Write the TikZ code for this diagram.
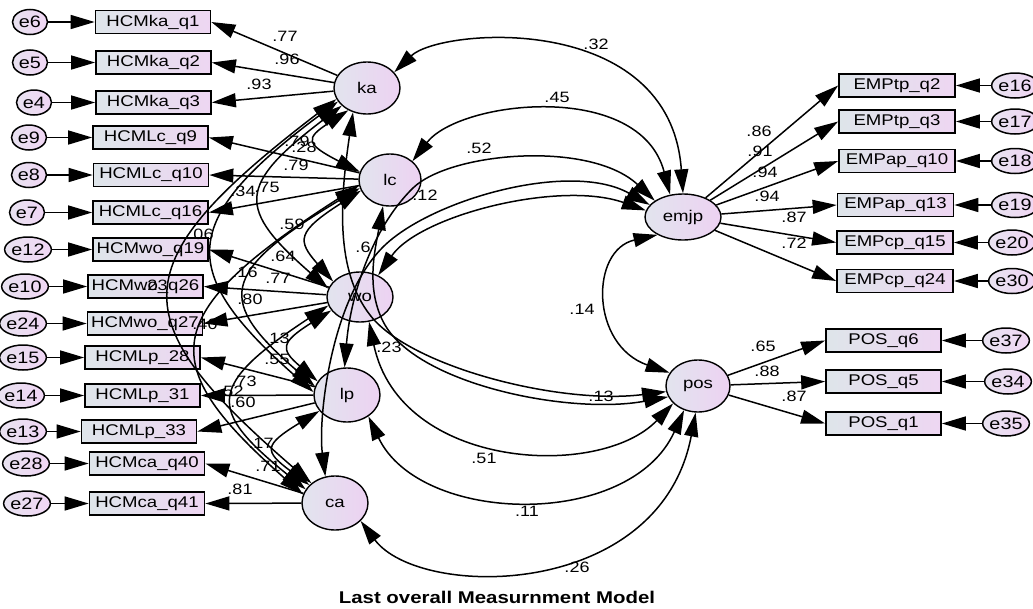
\documentclass[tikz,border=0pt]{standalone}
\usepackage{fontspec}
\setmainfont{Liberation Sans}[FakeStretch=1.2]
\usetikzlibrary{shapes.geometric,arrows.meta}
\definecolor{boxL}{RGB}{222,229,234}
\definecolor{boxR}{RGB}{238,214,242}
\definecolor{latL}{RGB}{226,228,238}
\definecolor{latR}{RGB}{237,210,242}
\definecolor{errL}{RGB}{232,226,240}
\definecolor{errR}{RGB}{240,214,244}
\begin{document}
\begin{tikzpicture}[x=1pt,y=-1pt,
  obs/.style={draw=black, line width=1.7pt, left color=boxL, right color=boxR,
    minimum width=115pt, minimum height=23pt, inner sep=0pt,
    font=\fontsize{15.5}{16}\selectfont},
  lat/.style={ellipse, draw=black, line width=1.4pt, left color=latL, right color=latR,
    inner sep=0pt, minimum width=66pt, minimum height=52pt,
    font=\fontsize{15.5}{16}\selectfont},
  err/.style={ellipse, draw=black, line width=1.5pt, left color=errL, right color=errR,
    inner sep=0pt, minimum width=35pt, minimum height=25pt,
    font=\fontsize{16.5}{17}\selectfont},
  load/.style={-{Triangle[length=24pt,width=14pt]}, line width=1.5pt},
  cov/.style={{Triangle[length=24pt,width=14pt]}-{Triangle[length=24pt,width=14pt]}, line width=1.5pt},
  lab/.style={font=\fontsize{15}{16}\selectfont, inner sep=0pt}]
\useasboundingbox (0,0) rectangle (1033,608);
\fill[white] (0,0) rectangle (1033,608);

% left observed
\node[obs] (q1) at (153,22) {HCMka\_q1};
\node[obs] (q2) at (153.5,62.5) {HCMka\_q2};
\node[obs] (q3) at (153.5,102.5) {HCMka\_q3};
\node[obs] (q9) at (150.5,137.5) {HCMLc\_q9};
\node[obs] (q10) at (151,175) {HCMLc\_q10};
\node[obs] (q16) at (150.5,212.5) {HCMLc\_q16};
\node[obs] (q19) at (150.5,249.5) {HCMwo\_q19};
\node[obs] (q26) at (145.5,286.5) {HCMwo\_q26};
\node[obs] (q27) at (145,323.5) {HCMwo\_q27};
\node[obs] (p28) at (142.5,357.5) {HCMLp\_28};
\node[obs] (p31) at (142.5,395.5) {HCMLp\_31};
\node[obs] (p33) at (139,431.5) {HCMLp\_33};
\node[obs] (c40) at (147,463.5) {HCMca\_q40};
\node[obs] (c41) at (147,503.5) {HCMca\_q41};

% left errors
\node[err] (e6) at (30,22) {e6};
\node[err] (e5) at (30,62.5) {e5};
\node[err] (e4) at (34,102.5) {e4};
\node[err] (e9) at (29,137.5) {e9};
\node[err] (e8) at (29,175) {e8};
\node[err] (e7) at (27,212.5) {e7};
\node[err] (e12) at (28,249.5) {e12};
\node[err] (e10) at (25,286.5) {e10};
\node[err] (e24) at (23,323.5) {e24};
\node[err] (e15) at (23,357.5) {e15};
\node[err] (e14) at (21,395.5) {e14};
\node[err] (e13) at (23,431.5) {e13};
\node[err] (e28) at (26,463.5) {e28};
\node[err] (e27) at (27,503.5) {e27};

% latents
\node[lat] (ka) at (367,88) {ka};
\node[lat, minimum width=62pt] (lc) at (390,180) {lc};
\node[lat, minimum height=50pt] (wo) at (360,297) {wo};
\node[lat, minimum height=54pt] (lp) at (347,395) {lp};
\node[lat, minimum height=54pt] (ca) at (335,503) {ca};
\node[lat, minimum width=76pt, minimum height=46pt] (emjp) at (683,217) {emjp};
\node[lat, minimum width=64pt] (pos) at (698,386) {pos};

% right observed
\node[obs, minimum width=116pt] (t2) at (897,85.5) {EMPtp\_q2};
\node[obs, minimum width=116pt] (t3) at (897,121.5) {EMPtp\_q3};
\node[obs, minimum width=116pt] (a10) at (897,161) {EMPap\_q10};
\node[obs, minimum width=116pt] (a13) at (895.5,205) {EMPap\_q13};
\node[obs, minimum width=116pt] (c15) at (895,242.5) {EMPcp\_q15};
\node[obs, minimum width=116pt] (c24) at (895,281) {EMPcp\_q24};
\node[obs] (s6) at (883.5,340.5) {POS\_q6};
\node[obs] (s5) at (883.5,381.5) {POS\_q5};
\node[obs] (s1) at (883.5,423.5) {POS\_q1};

% right errors
\node[err] (e16) at (1015,85.5) {e16};
\node[err] (e17) at (1015,121.5) {e17};
\node[err] (e18) at (1015,161) {e18};
\node[err] (e19) at (1015,205) {e19};
\node[err] (e20) at (1012,242.5) {e20};
\node[err] (e30) at (1012,281) {e30};
\node[err] (e37) at (1006,340.5) {e37};
\node[err] (e34) at (1008,381.5) {e34};
\node[err] (e35) at (1006,423.5) {e35};

% error arrows
\foreach \e/\b in {e6/q1,e5/q2,e4/q3,e9/q9,e8/q10,e7/q16,e12/q19,e10/q26,e24/q27,e15/p28,e14/p31,e13/p33,e28/c40,e27/c41}
  \draw[load] (\e) -- (\b.west);
\foreach \e/\b in {e16/t2,e17/t3,e18/a10,e19/a13,e20/c15,e30/c24,e37/s6,e34/s5,e35/s1}
  \draw[load] (\e) -- (\b.east);

% loadings
\foreach \l/\b in {ka/q1,ka/q2,ka/q3,lc/q9,lc/q10,lc/q16,wo/q19,wo/q26,wo/q27,lp/p28,lp/p31,lp/p33,ca/c40,ca/c41}
  \draw[load] (\l) -- (\b.east);
\foreach \b in {t2,t3,a10,a13,c15,c24}
  \draw[load] (emjp) -- (\b.west);
\foreach \b in {s6,s5,s1}
  \draw[load] (pos) -- (\b.west);

% covariances among left latents
\draw[cov] (ka.230) .. controls +(-43,28) and +(-54.6,-28) .. (lc.165);
\draw[cov] (lc.200) .. controls +(-64,41) and +(-36.3,-41) .. (wo.150);
\draw[cov] (wo.205) .. controls +(-50.9,32) and +(-37.4,-32) .. (lp.155);
\draw[cov] (lp.210) .. controls +(-55.8,34) and +(-45.6,-34) .. (ca.145);
\draw[cov] (ka.215) .. controls +(-104.8,80) and +(-91.4,-80) .. (wo.165);
\draw[cov] (lc.195) .. controls +(-142.4,85) and +(-97.6,-85) .. (lp.165);
\draw[cov] (wo.195) .. controls +(-121.4,80) and +(-98.9,-80) .. (ca.155);
\draw[cov] (ka.205) .. controls +(-160.7,120) and +(-136.2,-120) .. (lp.175);
\draw[cov] (lc.190) .. controls +(-203.6,130) and +(-147.5,-130) .. (ca.165);
\draw[cov] (ka.200) .. controls +(-215.8,165) and +(-190.7,-165) .. (ca.140);

% covariances with emjp
\draw[cov] (ka.30) .. controls (440,28) and (670,10) .. (emjp.90);
\draw[cov] (lc.40) .. controls (460,100) and (640,80) .. (emjp.120);
\draw[cov] (lp.95) .. controls (350,300) and (370,230) .. (413,188) .. controls (450,152) and (590,140) .. (emjp.150);
\draw[cov] (ca.110) .. controls (318,420) and (330,300) .. (383,247) .. controls (430,200) and (570,160) .. (emjp.160);
\draw[cov] (wo.50) .. controls (420,215) and (560,180) .. (emjp.170);
% covariances with pos
\draw[cov] (ka.240) .. controls (340,200) and (335,270) .. (370,315) .. controls (410,367) and (560,405) .. (pos.190);
\draw[cov] (lc.255) .. controls (375,250) and (365,290) .. (385,325) .. controls (420,385) and (570,415) .. (pos.200);
\draw[cov] (wo.290) .. controls (400,470) and (600,480) .. (pos.215);
\draw[cov] (lp.315) .. controls (420,525) and (630,530) .. (pos.240);
\draw[cov] (ca.325) .. controls (420,600) and (660,600) .. (pos.265);
\draw[cov] (emjp.215) .. controls (590,250) and (590,345) .. (pos.155);

% labels
\node[lab] (L1) at (285,36) {.77};
\node[lab] (L2) at (287,59) {.96};
\node[lab] (L3) at (259,84) {.93};
\node[lab] (L4) at (297,141) {.79};
\node[lab] (L5) at (304,147) {.28};
\node[lab] (L6) at (296,165) {.79};
\node[lab] (L7) at (243,191) {.34};
\node[lab] (L8) at (267,187) {.75};
\node[lab] (L9) at (201,234) {.06};
\node[lab] (L10) at (292,224) {.59};
\node[lab] (L11) at (283,256) {.64};
\node[lab] (L12) at (245,272) {.16};
\node[lab] (L13) at (278,278) {.77};
\node[lab] (L14) at (155,285) {.23};
\node[lab] (L15) at (250,299) {.80};
\node[lab] (L16) at (205,324) {.40};
\node[lab] (L17) at (277,338) {.13};
\node[lab] (L18) at (277,359) {.55};
\node[lab] (L19) at (244,381) {.73};
\node[lab] (L20) at (231,391) {.52};
\node[lab] (L21) at (243,402) {.60};
\node[lab] (L22) at (261,443) {.17};
\node[lab] (L23) at (268,466) {.71};
\node[lab] (L24) at (240,489) {.81};
\node[lab] (L25) at (363,247) {.6};
\node[lab] (L26) at (425,195) {.12};
\node[lab] (L27) at (389,347) {.23};
\node[lab] (R1) at (596,44) {.32};
\node[lab] (R2) at (557,97) {.45};
\node[lab] (R3) at (479,148) {.52};
\node[lab] (R4) at (582,309) {.14};
\node[lab] (R5) at (601,396) {.13};
\node[lab] (R6) at (484,458) {.51};
\node[lab] (R7) at (527,511) {.11};
\node[lab] (R8) at (577,567) {.26};
\node[lab] (R9) at (759,131) {.86};
\node[lab] (R10) at (760,151) {.91};
\node[lab] (R11) at (765,172) {.94};
\node[lab] (R12) at (767,196) {.94};
\node[lab] (R13) at (794,217) {.87};
\node[lab] (R14) at (794,243) {.72};
\node[lab] (R15) at (763,346) {.65};
\node[lab] (R16) at (767,371) {.88};
\node[lab] (R17) at (794,396) {.87};

\node[inner sep=0pt, font=\bfseries\fontsize{17}{18}\selectfont] (title) at (497,597) {Last overall Measurnment Model};
\end{tikzpicture}
\end{document}
